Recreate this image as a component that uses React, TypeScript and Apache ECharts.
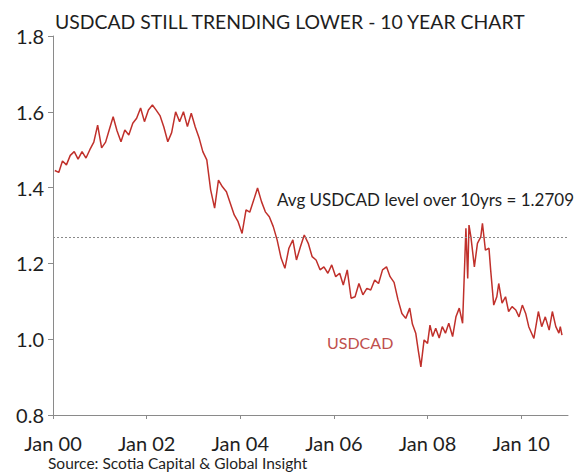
import React, { useEffect, useRef } from "react";
import * as echarts from "echarts";

const chartTitle = "USDCAD STILL TRENDING LOWER - 10 YEAR CHART";
const sourceText = "Source: Scotia Capital & Global Insight";
const avgText = "Avg USDCAD level over 10yrs = 1.2709";
const seriesName = "USDCAD";
const avgLevel = 1.2709;

const xTickYears = [2000, 2002, 2004, 2006, 2008, 2010];

const dates = [
  "2000-01-15", "2000-02-15", "2000-03-15", "2000-04-15", "2000-05-15", "2000-06-15",
  "2000-07-15", "2000-08-15", "2000-09-15", "2000-10-15", "2000-11-15", "2000-12-15",
  "2001-01-15", "2001-02-15", "2001-03-15", "2001-04-15", "2001-05-15", "2001-06-15",
  "2001-07-15", "2001-08-15", "2001-09-15", "2001-10-15", "2001-11-15", "2001-12-15",
  "2002-01-15", "2002-02-15", "2002-03-15", "2002-04-15", "2002-05-15", "2002-06-15",
  "2002-07-15", "2002-08-15", "2002-09-15", "2002-10-15", "2002-11-15", "2002-12-15",
  "2003-01-15", "2003-02-15", "2003-03-15", "2003-04-15", "2003-05-15", "2003-06-15",
  "2003-07-15", "2003-08-15", "2003-09-15", "2003-10-15", "2003-11-15", "2003-12-15",
  "2004-01-15", "2004-02-15", "2004-03-15", "2004-04-15", "2004-05-15", "2004-06-15",
  "2004-07-15", "2004-08-15", "2004-09-15", "2004-10-15", "2004-11-15", "2004-12-15",
  "2005-01-15", "2005-02-15", "2005-03-15", "2005-04-15", "2005-05-15", "2005-06-15",
  "2005-07-15", "2005-08-15", "2005-09-15", "2005-10-15", "2005-11-15", "2005-12-15",
  "2006-01-15", "2006-02-15", "2006-03-15", "2006-04-15", "2006-05-15", "2006-06-15",
  "2006-07-15", "2006-08-15", "2006-09-15", "2006-10-15", "2006-11-15", "2006-12-15",
  "2007-01-15", "2007-02-15", "2007-03-15", "2007-04-15", "2007-05-15", "2007-06-15",
  "2007-07-15", "2007-08-15", "2007-09-05", "2007-10-01", "2007-10-20", "2007-11-10",
  "2007-12-05", "2008-01-01", "2008-01-20", "2008-02-10", "2008-03-05", "2008-04-01",
  "2008-04-25", "2008-05-20", "2008-06-15", "2008-07-15", "2008-08-10", "2008-09-05",
  "2008-10-01", "2008-10-27", "2008-11-10", "2008-11-20", "2008-12-05", "2009-01-01",
  "2009-01-25", "2009-02-20", "2009-03-05", "2009-03-28", "2009-04-25", "2009-05-08",
  "2009-06-01", "2009-06-25", "2009-07-10", "2009-08-05", "2009-09-01", "2009-09-25",
  "2009-10-22", "2009-11-20", "2009-12-15", "2010-01-10", "2010-02-05", "2010-03-01",
  "2010-04-10", "2010-05-15", "2010-06-10", "2010-07-08", "2010-08-07", "2010-09-01",
  "2010-09-28", "2010-10-22", "2010-11-02", "2010-11-15",
];

const usdcad = [
  1.445, 1.44, 1.47, 1.46, 1.485, 1.495,
  1.475, 1.495, 1.478, 1.5, 1.52, 1.565,
  1.505, 1.52, 1.552, 1.587, 1.55, 1.521,
  1.552, 1.539, 1.57, 1.583, 1.61, 1.574,
  1.605, 1.618, 1.605, 1.59, 1.56, 1.521,
  1.545, 1.6, 1.574, 1.6, 1.561, 1.596,
  1.56, 1.53, 1.495, 1.473, 1.394, 1.346,
  1.42, 1.402, 1.389, 1.359, 1.328, 1.31,
  1.279, 1.341, 1.335, 1.367, 1.399, 1.363,
  1.336, 1.323, 1.297, 1.262, 1.214, 1.187,
  1.24, 1.262, 1.209, 1.244, 1.275, 1.253,
  1.218, 1.209, 1.183, 1.191, 1.174, 1.196,
  1.165, 1.174, 1.143, 1.183, 1.108, 1.112,
  1.147, 1.117, 1.134, 1.13, 1.156, 1.147,
  1.183, 1.191, 1.165, 1.15, 1.105, 1.068,
  1.055, 1.082, 1.04, 1.016, 0.972, 0.927,
  0.998, 0.989, 1.037, 1.007, 1.029, 1.003,
  1.033, 1.016, 1.042, 1.007, 1.059, 1.082,
  1.042, 1.293, 1.16, 1.301, 1.27, 1.191,
  1.253, 1.27, 1.306, 1.235, 1.24, 1.183,
  1.09, 1.112, 1.147, 1.095, 1.112, 1.073,
  1.086, 1.077, 1.059, 1.09, 1.068, 1.033,
  1.002, 1.073, 1.033, 1.059, 1.024, 1.073,
  1.033, 1.016, 1.033, 1.011,
];

function toYear(d: string): number {
  const [y, m, day] = d.split("-").map(Number);
  const start = Date.UTC(y, 0, 1);
  const end = Date.UTC(y + 1, 0, 1);
  return y + (Date.UTC(y, m - 1, day) - start) / (end - start);
}

const FONT = "Lato";
const TEXT = "#1e1e1e";
const AXIS = "#8a8a8a";

export default function App() {
  const ref = useRef<HTMLDivElement>(null);

  useEffect(() => {
    if (!ref.current) return;
    const chart = echarts.init(ref.current, null, { renderer: "svg" });
    chart.setOption({
      animation: false,
      backgroundColor: "#ffffff",
      textStyle: { fontFamily: FONT },
      title: {
        text: chartTitle,
        left: 50,
        top: 7,
        textStyle: { fontFamily: FONT, fontSize: 19.4, fontWeight: "normal", color: TEXT },
      },
      grid: { left: 53, right: 18, top: 36, bottom: 59 },
      xAxis: {
        type: "value",
        min: 2000,
        max: 2011,
        interval: 2,
        splitLine: { show: false },
        axisLine: { show: true, lineStyle: { color: AXIS, width: 1 } },
        axisTick: { show: true, length: 4, customValues: xTickYears, lineStyle: { color: AXIS } },
        axisLabel: {
          customValues: xTickYears,
          formatter: (v: number) => "Jan " + String(Math.round(v) % 100).padStart(2, "0"),
          fontFamily: FONT,
          fontSize: 20,
          color: TEXT,
          margin: 18,
        },
      },
      yAxis: {
        type: "value",
        min: 0.8,
        max: 1.8,
        interval: 0.2,
        splitLine: { show: false },
        axisLine: { show: true, lineStyle: { color: AXIS, width: 1 } },
        axisTick: { show: true, length: 5, lineStyle: { color: AXIS } },
        axisLabel: {
          formatter: (v: number) => v.toFixed(1),
          fontFamily: FONT,
          fontSize: 20,
          color: TEXT,
          margin: 9,
        },
      },
      series: [
        {
          name: seriesName,
          type: "line",
          data: dates.map((d, i) => [toYear(d), usdcad[i]]),
          showSymbol: false,
          symbol: "none",
          lineStyle: { color: "#c0302b", width: 1.5 },
          markLine: {
            silent: true,
            symbol: "none",
            data: [{ yAxis: avgLevel }],
            lineStyle: { type: [2, 2], color: "#8a8a8a", width: 1 },
            label: { show: false },
          },
        },
      ],
      graphic: [
        {
          type: "text",
          left: 277,
          top: 191,
          style: { text: avgText, fontFamily: FONT, fontSize: 17, fill: TEXT },
        },
        {
          type: "text",
          left: 327,
          top: 334,
          style: { text: seriesName, fontFamily: FONT, fontSize: 16, fill: "#c0504d" },
        },
        {
          type: "text",
          left: 48,
          top: 455,
          style: { text: sourceText, fontFamily: FONT, fontSize: 15.5, fill: TEXT },
        },
      ],
    });
    return () => chart.dispose();
  }, []);

  return (
    <div
      ref={ref}
      style={{ position: "fixed", left: 0, top: 0, width: 586, height: 474 }}
    />
  );
}
